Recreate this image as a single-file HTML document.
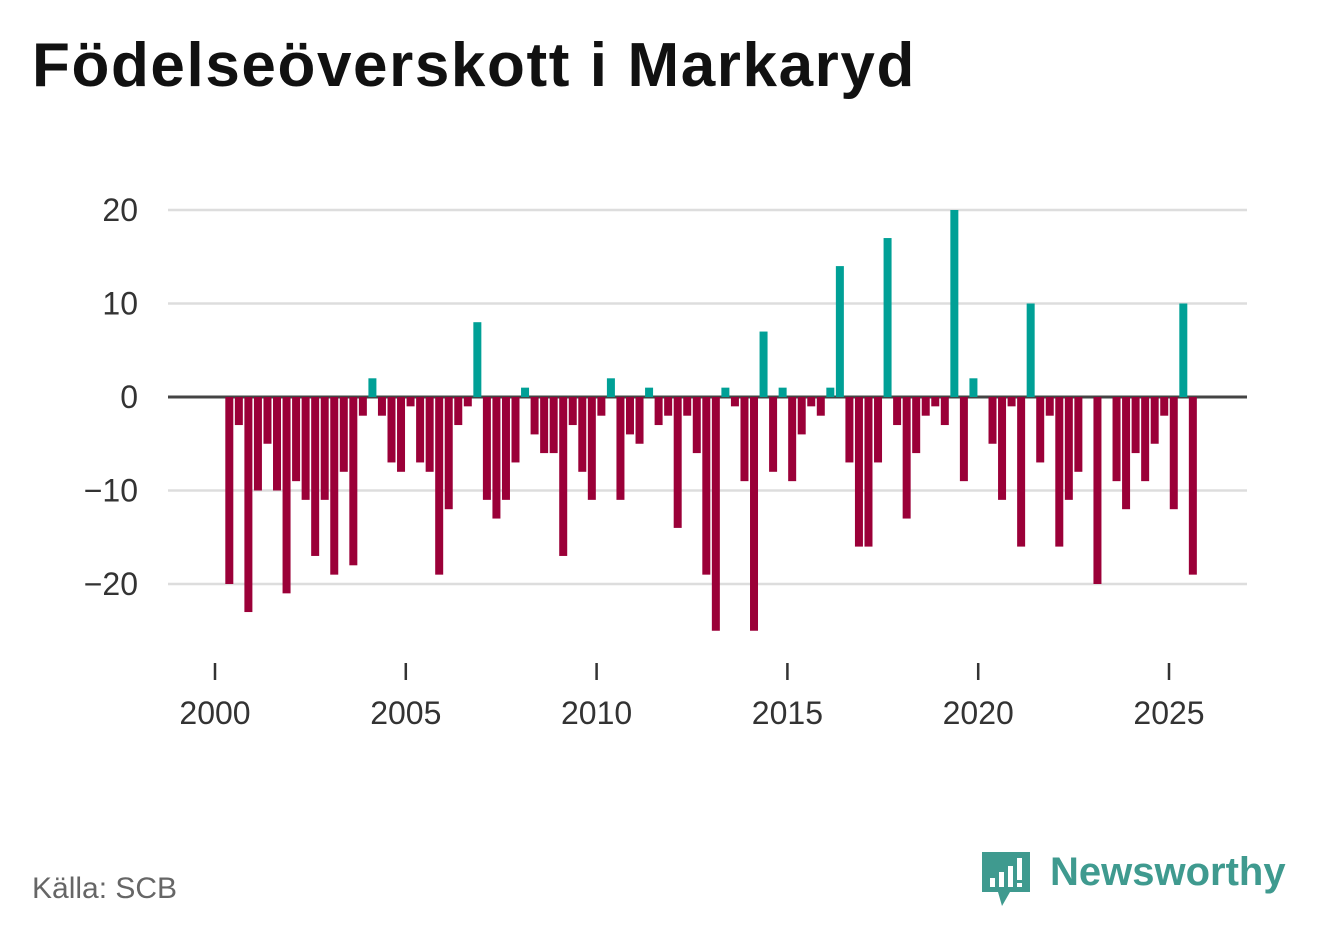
<!DOCTYPE html>
<html><head><meta charset="utf-8"><style>
body{margin:0;background:#fff;font-family:"Liberation Sans",sans-serif;}
#wrap{position:relative;width:1322px;height:939px;overflow:hidden;}
h1{position:absolute;left:32px;top:30px;margin:0;font-size:62px;font-weight:bold;color:#111;letter-spacing:1.6px;}
.src{position:absolute;left:32px;top:872px;font-size:30px;color:#666;}
.brand{position:absolute;left:1050px;top:850px;font-size:40px;font-weight:bold;color:#3f9a8f;}
</style></head><body><div id="wrap">
<h1>Födelseöverskott i Markaryd</h1>
<svg id="chart" width="1322" height="939" style="position:absolute;left:0;top:0"></svg>
<div class="src">Källa: SCB</div>
<svg style="position:absolute;left:980px;top:850px" width="52" height="60">
<path d="M2 2h48v40H30l-8 14-4-14H2z" fill="#3f9a8f"/>
<rect x="10" y="28" width="5" height="9" fill="#fff"/><rect x="19" y="22" width="5" height="15" fill="#fff"/><rect x="28" y="16" width="5" height="21" fill="#fff"/><rect x="37" y="8" width="5" height="22" fill="#fff"/><rect x="37" y="33" width="5" height="4" fill="#fff"/>
</svg>
<div class="brand">Newsworthy</div>
<script>
const values=[-20,-3,-23,-10,-5,-10,-21,-9,-11,-17,-11,-19,-8,-18,-2,2,-2,-7,-8,-1,-7,-8,-19,-12,-3,-1,8,-11,-13,-11,-7,1,-4,-6,-6,-17,-3,-8,-11,-2,2,-11,-4,-5,1,-3,-2,-14,-2,-6,-19,-25,1,-1,-9,-25,7,-8,1,-9,-4,-1,-2,1,14,-7,-16,-16,-7,17,-3,-13,-6,-2,-1,-3,20,-9,2,0,-5,-11,-1,-16,10,-7,-2,-16,-11,-8,0,-20,0,-9,-12,-6,-9,-5,-2,-12,10,-19];
const yTicks=[20,10,0,-10,-20];
const xTicks=[2000,2005,2010,2015,2020,2025];
const startTime=2000.375;
const svg=document.getElementById('chart');const NS='http://www.w3.org/2000/svg';
const y=v=>397-v*9.35;const x=t=>215+(t-2000)*38.16;
function mk(tag,a){const e=document.createElementNS(NS,tag);for(const k in a)e.setAttribute(k,a[k]);svg.appendChild(e);return e;}
yTicks.forEach(v=>{
 const l=mk('line',{x1:168,x2:1247,y1:y(v),y2:y(v),stroke:v===0?'#444':'#ddd','stroke-width':v===0?3:2.5});
 
 
 const t=mk('text',{x:138,y:y(v)+11,'text-anchor':'end','font-size':32,fill:'#333','font-family':'Liberation Sans, sans-serif'});
 t.textContent=(v<0?'\u2212'+(-v):v);
 
 
});
xTicks.forEach(v=>{
 const l=mk('line',{x1:x(v),x2:x(v),y1:663,y2:680,stroke:'#333','stroke-width':2.5});
 
 
 const t=mk('text',{x:x(v),y:724,'text-anchor':'middle','font-size':32,fill:'#333','font-family':'Liberation Sans, sans-serif'});
 t.textContent=v;
 
 
});
values.forEach((v,i)=>{
 const cx=x(startTime+i*0.25);
 const r=mk('rect',{x:cx-4,y:Math.min(y(v),y(0)),width:8,height:Math.abs(y(v)-y(0)),fill:v>=0?'#00a096':'#9b0038'});
 
 
});
</script>
</div></body></html>
